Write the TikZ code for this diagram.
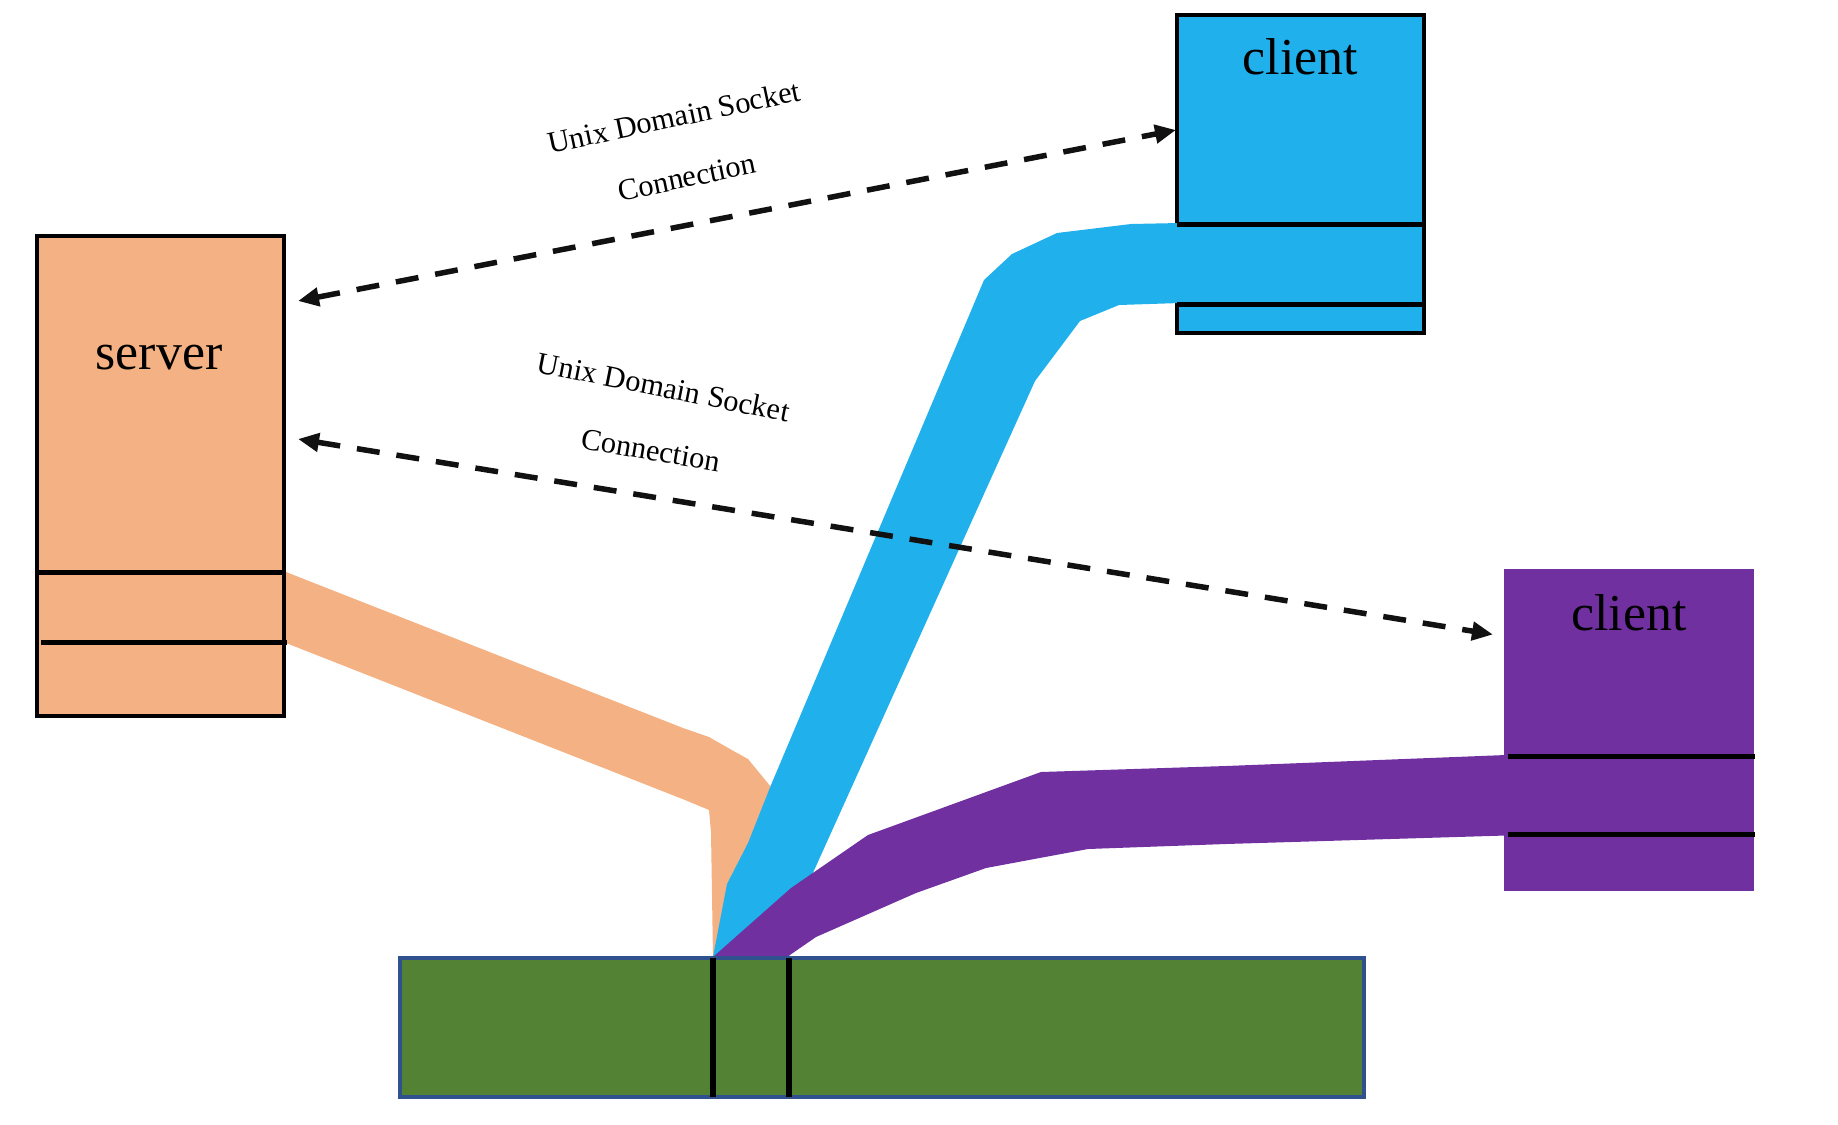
\documentclass[tikz,border=0pt]{standalone}
\usepackage{fontspec}
\setmainfont{Liberation Serif}
\usetikzlibrary{arrows.meta}
\definecolor{srvc}{HTML}{F4B183}
\definecolor{bluec}{HTML}{20B0EB}
\definecolor{purc}{HTML}{7030A0}
\definecolor{grnc}{HTML}{548235}
\definecolor{grnb}{HTML}{2F528F}
\definecolor{inkc}{HTML}{111111}
\begin{document}
\begin{tikzpicture}[x=1bp,y=-1bp,
  box/.style={rectangle, draw=black, line width=4bp, outer sep=0pt, inner sep=0pt, anchor=north west},
  plainbox/.style={rectangle, draw=none, outer sep=0pt, inner sep=0pt, anchor=north west},
  divider/.style={draw=black, line width=5bp},
  bigtxt/.style={font=\fontsize{52}{60}\selectfont, anchor=base, inner sep=0pt},
  lbl/.style={font=\fontsize{30.5}{36}\selectfont, anchor=base, inner sep=0pt},
  sock/.style={draw=inkc, line width=5.5bp, dash pattern=on 23bp off 17bp,
    {Triangle[length=21bp,width=18bp]}-{Triangle[length=21bp,width=18bp]}},
  ]
\useasboundingbox (0,0) rectangle (1838,1124);

% boxes
\node[box, fill=srvc, minimum width=247bp, minimum height=480bp] (server) at (37,236) {};
\node[box, fill=bluec, minimum width=247bp, minimum height=318.5bp] (clientA) at (1177,14.5) {};
\node[plainbox, fill=purc, minimum width=250bp, minimum height=322bp] (clientB) at (1504,569) {};

% orange band
\fill[srvc] (286,572) -- (683,728) -- (709,737) -- (730,749) -- (748,759) -- (771,787)
  -- (790,800) -- (713,958) -- (711,832) -- (709,810) -- (685,800) -- (286,643) -- cycle;
% blue band
\fill[bluec] (1180,223) -- (1131,224) -- (1057,233) -- (1012,254) -- (984,280) -- (771,785)
  -- (748,843) -- (727,884) -- (713,957) -- (789,957) -- (812,875) -- (1035,381)
  -- (1080,321) -- (1119,305) -- (1180,303) -- cycle;
% purple band
\fill[purc] (1506,755) -- (1226,766) -- (1041,772) -- (868,835) -- (791,888) -- (713,957)
  -- (787,957) -- (816,937) -- (916,893) -- (986,868) -- (1088,849) -- (1226,844)
  -- (1506,835.5) -- cycle;

% dividers
\draw[divider] (37,572) -- (284,572);
\draw[divider] (41,642) -- (287,642);
\draw[divider] (1177,224) -- (1424,224);
\draw[divider] (1177,304) -- (1424,304);
\draw[divider] (1508,756) -- (1755,756);
\draw[divider] (1508,834) -- (1755,834);

% green bar
\node[box, draw=grnb, line width=4bp, fill=grnc, minimum width=964bp, minimum height=139bp] (mem) at (400,958) {};
\draw[line width=5.5bp, black] (713,958) -- (713,1097);
\draw[line width=5.5bp, black] (789,958) -- (789,1097);

% titles
\node[bigtxt] (servertxt) at (159,369) {server};
\node[bigtxt] (clientAtxt) at (1300.5,74) {client};
\node[bigtxt] (clientBtxt) at (1629,630) {client};

% socket connections
\coordinate (s1) at (298,301);
\coordinate (c1) at (1176,130);
\coordinate (s2) at (298,439);
\coordinate (c2) at (1493,634.5);
\draw[sock] (s1) -- (c1);
\draw[sock] (s2) -- (c2);

\node[lbl, rotate=12] (l1a) at (676,127) {Unix Domain Socket};
\node[lbl, rotate=11.7] (l1b) at (689,187) {Connection};
\node[lbl, rotate=-11.2] (l2a) at (661.5,397) {Unix Domain Socket};
\node[lbl, rotate=-9.7] (l2b) at (649,460) {Connection};
\end{tikzpicture}
\end{document}
